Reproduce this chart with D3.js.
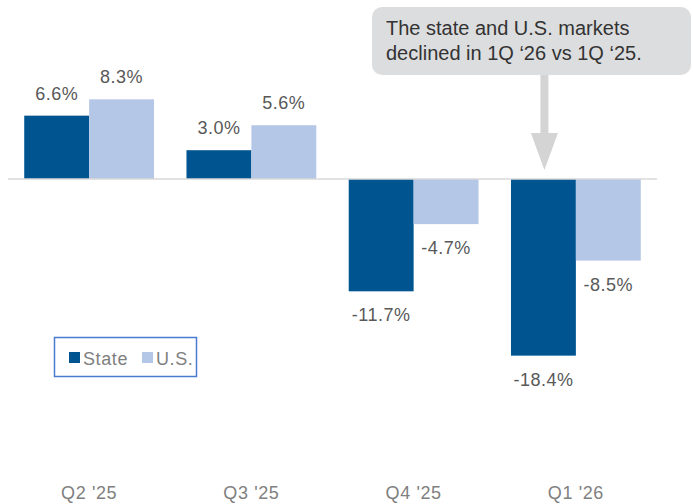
<!DOCTYPE html>
<html>
<head>
<meta charset="utf-8">
<script src="https://cdn.jsdelivr.net/npm/d3@7"></script>
<style>
  body { margin: 0; background: #fff; }
  svg text { font-family: "Liberation Sans", Arial, sans-serif; }
</style>
</head>
<body>
<div id="chart"></div>
<script>
// data
var quarters = ["Q2 '25", "Q3 '25", "Q4 '25", "Q1 '26"];
var seriesNames = ["State", "U.S."];
var stateVals = [6.6, 3.0, -11.7, -18.4];
var usVals = [8.3, 5.6, -4.7, -8.5];
var colors = ["#005591", "#b4c7e7"];
var note = ["The state and U.S. markets", "declined in 1Q \u201826 vs 1Q \u201825."];

var width = 693, height = 504;

var svg = d3.select("#chart").append("svg")
    .attr("width", width).attr("height", height);

var x0 = d3.scaleBand().domain(quarters).range([8, 657])
    .paddingInner(0.2).paddingOuter(0.1);
var x1 = d3.scaleBand().domain(seriesNames).range([0, x0.bandwidth()]);
var y = d3.scaleLinear().domain([-20, 10]).range([371, 83]);

var rows = quarters.map(function(q, i) {
    return { q: q, vals: [{ s: "State", v: stateVals[i] }, { s: "U.S.", v: usVals[i] }] };
});

var groups = svg.selectAll("g.grp").data(rows).enter().append("g")
    .attr("class", "grp")
    .attr("transform", function(d) { return "translate(" + x0(d.q) + ",0)"; });

groups.selectAll("rect").data(function(d) { return d.vals; }).enter().append("rect")
    .attr("x", function(d) { return x1(d.s); })
    .attr("width", x1.bandwidth())
    .attr("y", function(d) { return y(Math.max(0, d.v)); })
    .attr("height", function(d) { return Math.abs(y(d.v) - y(0)); })
    .attr("fill", function(d, i) { return colors[i]; });

groups.selectAll("text.val").data(function(d) { return d.vals; }).enter().append("text")
    .attr("class", "val")
    .attr("x", function(d) { return x1(d.s) + x1.bandwidth() / 2; })
    .attr("y", function(d) { return d.v >= 0 ? y(d.v) - 16 : y(d.v) + 30; })
    .attr("text-anchor", "middle")
    .attr("font-size", 18)
    .attr("letter-spacing", 0.5)
    .attr("fill", "#595959")
    .text(function(d) { return d.v.toFixed(1) + "%"; });

// zero line
svg.append("line")
    .attr("x1", 8).attr("x2", 657)
    .attr("y1", y(0)).attr("y2", y(0))
    .attr("stroke", "#d9d9d9").attr("stroke-width", 1.5);

// category labels
var xAxis = svg.append("g").attr("transform", "translate(0,499)")
    .call(d3.axisBottom(x0).tickSize(0).tickPadding(0));
xAxis.select(".domain").remove();
xAxis.selectAll("text")
    .attr("dy", 0)
    .attr("font-size", 18)
    .attr("letter-spacing", 0.6)
    .attr("font-family", "Liberation Sans, Arial, sans-serif")
    .attr("fill", "#7f7f7f");

// legend
var leg = svg.append("g");
leg.append("rect")
    .attr("x", 54.5).attr("y", 337.5).attr("width", 142).attr("height", 39)
    .attr("fill", "#fff").attr("stroke", "#4a7bd0").attr("stroke-width", 1.5);
var legX = [69, 142];
seriesNames.forEach(function(s, i) {
    leg.append("rect")
        .attr("x", legX[i]).attr("y", 352).attr("width", 11).attr("height", 11)
        .attr("fill", colors[i]);
    leg.append("text")
        .attr("x", legX[i] + 14).attr("y", 365)
        .attr("font-size", 18).attr("letter-spacing", 0.6).attr("fill", "#7f7f7f")
        .text(s);
});

// callout
var cx = x0(quarters[3]) + x1("State") + x1.bandwidth() / 2 + 1;
var callout = svg.append("g");
callout.append("rect")
    .attr("x", 372).attr("y", 7).attr("width", 319).attr("height", 68)
    .attr("rx", 10).attr("fill", "#dcdddf");
callout.selectAll("text").data(note).enter().append("text")
    .attr("x", 386)
    .attr("y", function(d, i) { return 35 + i * 25; })
    .attr("font-size", 20)
    .attr("fill", "#333")
    .text(function(d) { return d; });
callout.append("rect")
    .attr("x", cx - 4).attr("y", 75).attr("width", 8).attr("height", 58)
    .attr("fill", "#d4d4d4");
callout.append("path")
    .attr("d", "M" + (cx - 13.5) + ",133 L" + (cx + 13.5) + ",133 L" + cx + ",170 Z")
    .attr("fill", "#d4d4d4");
</script>
</body>
</html>
